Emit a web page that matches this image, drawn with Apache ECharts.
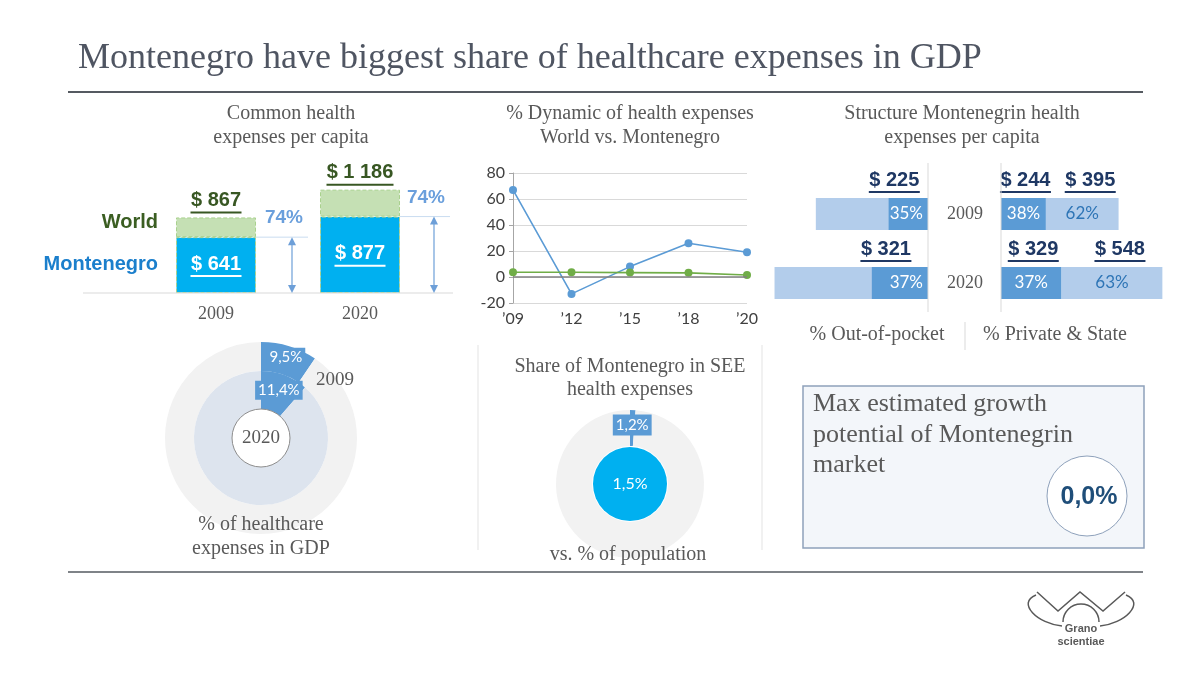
<!DOCTYPE html>
<html><head><meta charset="utf-8">
<script src="https://cdn.jsdelivr.net/npm/echarts@6/dist/echarts.min.js"></script>
<style>html,body{margin:0;padding:0;background:#fff}#c{width:1200px;height:675px}</style>
</head><body><div id="c"></div>
<script>
// ---------------- data ----------------
const barYears = ['2009', '2020'];
const worldPerCapita = [867, 1186];
const montenegroPerCapita = [641, 877];

const dynCategories = ['’09', '’12', '’15', '’18', '’20'];
const dynMontenegro = [67, -13, 8, 26, 19];
const dynWorld = [3.6, 3.6, 3.4, 3.2, 1.5];
const dynTicks = [-20, 0, 20, 40, 60, 80];

const structYears = ['2009', '2020'];
const outOfPocket = [225, 321];
const outOfPocketPct = [35, 37];
const privateExp = [244, 329];
const privatePct = [38, 37];
const stateExp = [395, 548];
const statePct = [62, 63];

const gdpShare2009 = 9.5;
const gdpShare2020 = 11.4;

const seeShareExpenses = 1.2;
const seeSharePopulation = 1.5;

const growthPotential = 0.0;

// ---------------- helpers ----------------
const SERIF = "'Liberation Serif','DejaVu Serif',serif";
const SANS = "'Liberation Sans',Arial,sans-serif";
const CAL = "Lato,'Open Sans',sans-serif";
const GRAY = '#595959';
const BLUE = '#5b9bd5';

const ctx2d = document.createElement('canvas').getContext('2d');
function tw(text, font) { ctx2d.font = font; return Math.ceil(ctx2d.measureText(text).width); }
function money(v) { return '$ ' + String(v).replace(/\B(?=(\d{3})+(?!\d))/g, ' '); }
function pct1(v) { return v.toFixed(1).replace('.', ',') + '%'; }
function ulLabel(text, color, size, extra) {
  const font = 'bold ' + size + 'px ' + SANS;
  return Object.assign({
    show: true,
    formatter: '{t|' + text + '}\n{u|}',
    rich: {
      t: { fontFamily: SANS, fontWeight: 'bold', fontSize: size, color: color, lineHeight: size + 2, align: 'center' },
      u: { width: tw(text, font), height: 2, backgroundColor: color, align: 'center' }
    }
  }, extra || {});
}

const chart = echarts.init(document.getElementById('c'), null, { renderer: 'canvas' });

const option = {
  animation: false,
  backgroundColor: '#fff',
  grid: [
    { left: 144, width: 288, top: 171, bottom: 382 },
    { left: 513, width: 234, top: 173, height: 130 },
    { left: 753, width: 175, top: 179.5, height: 138 },
    { left: 1001, width: 184, top: 179.5, height: 138 }
  ],
  xAxis: [
    { gridIndex: 0, type: 'category', data: barYears, axisLine: { show: false }, axisTick: { show: false },
      axisLabel: { fontFamily: SERIF, fontSize: 18, color: GRAY, margin: 12 } },
    { gridIndex: 1, type: 'category', data: dynCategories, boundaryGap: false, axisLine: { show: false }, axisTick: { show: false },
      axisLabel: { fontFamily: CAL, fontSize: 16, color: '#404040', margin: 8 } },
    { gridIndex: 2, type: 'value', inverse: true, min: 0, max: 1000, show: false },
    { gridIndex: 3, type: 'value', min: 0, max: 1000, show: false }
  ],
  yAxis: [
    { gridIndex: 0, type: 'value', min: 0, max: 1400, show: false },
    { gridIndex: 1, type: 'value', min: dynTicks[0], max: dynTicks[dynTicks.length - 1], interval: dynTicks[1] - dynTicks[0],
      axisLine: { show: true, lineStyle: { color: '#a6a6a6' } },
      axisTick: { show: true, length: 4, lineStyle: { color: '#a6a6a6' } },
      splitLine: { show: true, lineStyle: { color: '#d9d9d9' } },
      axisLabel: { fontFamily: CAL, fontSize: 16, color: '#404040', margin: 8 } },
    { gridIndex: 2, type: 'category', data: structYears, inverse: true, show: false },
    { gridIndex: 3, type: 'category', data: structYears, inverse: true,
      axisLine: { show: false }, axisTick: { show: false }, splitLine: { show: false },
      axisLabel: { fontFamily: SERIF, fontSize: 18, color: GRAY, margin: 18 } }
  ],
  series: [
    // panel 1: per-capita stacked bars
    { type: 'bar', xAxisIndex: 0, yAxisIndex: 0, stack: 'pc', barWidth: 80,
      itemStyle: { color: '#00b0f0', borderColor: '#a9d18e', borderWidth: 1, borderType: 'dashed' },
      data: montenegroPerCapita.map(v => ({ value: v, label: ulLabel(money(v), '#ffffff', 20, { position: 'inside' }) })) },
    { type: 'bar', xAxisIndex: 0, yAxisIndex: 0, stack: 'pc', barWidth: 80,
      itemStyle: { color: '#c5e0b4', borderColor: '#a9d18e', borderWidth: 1, borderType: 'dashed' },
      data: worldPerCapita.map((v, i) => ({ value: v - montenegroPerCapita[i], label: ulLabel(money(v), '#385723', 20, { position: 'top', distance: 4 }) })) },
    // panel 2: dynamics
    { type: 'line', xAxisIndex: 1, yAxisIndex: 1, data: dynMontenegro, symbol: 'circle', symbolSize: 8,
      itemStyle: { color: BLUE }, lineStyle: { width: 1.6, color: BLUE }, z: 3,
      markLine: { silent: true, symbol: 'none', label: { show: false }, lineStyle: { color: '#7f7f7f', width: 1.5, type: 'solid' }, data: [{ yAxis: 0 }] } },
    { type: 'line', xAxisIndex: 1, yAxisIndex: 1, data: dynWorld, symbol: 'circle', symbolSize: 8,
      itemStyle: { color: '#70ad47' }, lineStyle: { width: 1.6, color: '#70ad47' }, z: 4 },
    // panel 3 left: out-of-pocket
    { type: 'bar', xAxisIndex: 2, yAxisIndex: 2, barWidth: 32, barGap: '-100%', data: montenegroPerCapita, itemStyle: { color: '#b3cdeb' } },
    { type: 'bar', xAxisIndex: 2, yAxisIndex: 2, barWidth: 32, barGap: '-100%', itemStyle: { color: BLUE },
      data: outOfPocket.map(v => ({ value: v, label: ulLabel(money(v), '#1f3864', 20, { position: 'top', distance: 5, offset: [-14, 0] }) })) },
    { type: 'bar', xAxisIndex: 2, yAxisIndex: 2, barWidth: 32, barGap: '-100%', itemStyle: { color: 'rgba(0,0,0,0)' },
      data: outOfPocket.map((v, i) => ({ value: v, label: { show: true, position: 'insideRight', distance: 5, formatter: outOfPocketPct[i] + '%', color: '#fff', fontFamily: CAL, fontSize: 17 } })) },
    // panel 3 right: private & state
    { type: 'bar', xAxisIndex: 3, yAxisIndex: 3, stack: 'ps', barWidth: 32, itemStyle: { color: BLUE },
      data: privateExp.map(v => ({ value: v, label: ulLabel(money(v), '#1f3864', 20, { position: 'top', distance: 5, offset: [2, 0] }) })) },
    { type: 'bar', xAxisIndex: 3, yAxisIndex: 3, stack: 'ps', barWidth: 32, itemStyle: { color: '#b3cdeb' },
      data: stateExp.map(v => ({ value: v, label: ulLabel(money(v), '#1f3864', 20, { position: 'top', distance: 5, offset: [8, 0] }) })) },
    { type: 'bar', xAxisIndex: 3, yAxisIndex: 3, stack: 'ps2', barWidth: 32, barGap: '-100%', itemStyle: { color: 'rgba(0,0,0,0)' },
      data: privateExp.map((v, i) => ({ value: v, label: { show: true, position: 'inside', formatter: privatePct[i] + '%', color: '#fff', fontFamily: CAL, fontSize: 17 } })) },
    { type: 'bar', xAxisIndex: 3, yAxisIndex: 3, stack: 'ps2', barWidth: 32, barGap: '-100%', itemStyle: { color: 'rgba(0,0,0,0)' },
      data: stateExp.map((v, i) => ({ value: v, label: { show: true, position: 'inside', formatter: statePct[i] + '%', color: '#2e75b6', fontFamily: CAL, fontSize: 17 } })) },
    // panel 4: GDP share donuts
    { type: 'pie', center: [261, 438], radius: [67, 96], startAngle: 90, clockwise: true, silent: true,
      label: { show: false }, labelLine: { show: false }, itemStyle: { borderWidth: 0 },
      data: [
        { value: gdpShare2009, itemStyle: { color: BLUE },
          label: { show: true, position: 'inside', formatter: pct1(gdpShare2009), color: '#fff', fontFamily: CAL, fontSize: 15, backgroundColor: BLUE, padding: [2, 3] } },
        { value: 100 - gdpShare2009, itemStyle: { color: '#f2f2f2' } }
      ] },
    { type: 'pie', center: [261, 438], radius: [29, 67], startAngle: 90, clockwise: true, silent: true,
      label: { show: false }, labelLine: { show: false }, itemStyle: { borderWidth: 0 },
      data: [
        { value: gdpShare2020, itemStyle: { color: BLUE },
          label: { show: true, position: 'inside', formatter: pct1(gdpShare2020), color: '#fff', fontFamily: CAL, fontSize: 15, backgroundColor: BLUE, padding: [2, 3] } },
        { value: 100 - gdpShare2020, itemStyle: { color: '#dde4ee' } }
      ] },
    { type: 'pie', center: [261, 438], radius: [0, 29], silent: true, labelLine: { show: false },
      itemStyle: { color: '#fff', borderColor: '#8c8c8c', borderWidth: 1 },
      label: { show: true, position: 'center', formatter: '2020', fontFamily: SERIF, fontSize: 19, color: GRAY },
      data: [{ value: 1 }] },
    // panel 5: SEE share
    { type: 'pie', center: [630, 484], radius: [38, 74], startAngle: 90, clockwise: true, silent: true,
      label: { show: false }, labelLine: { show: false }, itemStyle: { borderWidth: 0 },
      data: [
        { value: seeShareExpenses, itemStyle: { color: BLUE },
          label: { show: true, position: 'inside', formatter: pct1(seeShareExpenses), color: '#fff', fontFamily: CAL, fontSize: 15, backgroundColor: BLUE, padding: [3, 3] } },
        { value: 100 - seeShareExpenses, itemStyle: { color: '#f2f2f2' } }
      ] },
    { type: 'pie', center: [630, 484], radius: [0, 37], silent: true, labelLine: { show: false },
      itemStyle: { color: '#00b0f0', borderWidth: 0 },
      label: { show: true, position: 'center', formatter: pct1(seeSharePopulation), fontFamily: CAL, fontSize: 16, color: '#fff' },
      data: [{ value: seeSharePopulation }] }
  ]
};
chart.setOption(option);

// ---------------- annotations ----------------
function txt(x, y, text, font, fill, align, vAlign) {
  return { type: 'text', x: x, y: y, z: 100, silent: true,
    style: { text: text, font: font, fill: fill, align: align || 'center', verticalAlign: vAlign || 'middle' } };
}
function line(x1, y1, x2, y2, stroke, w) {
  return { type: 'line', z: 50, silent: true, shape: { x1: x1, y1: y1, x2: x2, y2: y2 }, style: { stroke: stroke, lineWidth: w || 1 } };
}
const sub = '20px ' + SERIF;
const g = [];
g.push(txt(78, 59, 'Montenegro have biggest share of healthcare expenses in GDP', '36px ' + SERIF, '#4f5562', 'left'));
g.push(line(68, 92, 1143, 92, '#555a61', 2));
g.push(line(68, 572, 1143, 572, '#555a61', 1.5));

g.push(txt(291, 114, 'Common health', sub, GRAY));
g.push(txt(291, 138, 'expenses per capita', sub, GRAY));
g.push(txt(630, 114, '% Dynamic of health expenses', sub, GRAY));
g.push(txt(630, 138, 'World vs. Montenegro', sub, GRAY));
g.push(txt(962, 114, 'Structure Montenegrin health', sub, GRAY));
g.push(txt(962, 138, 'expenses per capita', sub, GRAY));

g.push(txt(158, 222, 'World', 'bold 20px ' + SANS, '#3b5e22', 'right'));
g.push(txt(158, 264, 'Montenegro', 'bold 20px ' + SANS, '#1b7fcc', 'right'));

// baseline of per-capita bars
const base0 = chart.convertToPixel({ gridIndex: 0 }, [barYears[0], 0]);
g.push(line(83, base0[1], 453, base0[1], '#d9d9d9', 1));

// share arrows
barYears.forEach((yr, i) => {
  const p = chart.convertToPixel({ gridIndex: 0 }, [yr, montenegroPerCapita[i]]);
  const b = chart.convertToPixel({ gridIndex: 0 }, [yr, 0]);
  const ax = p[0] + 76 - i * 2;
  const share = Math.round(montenegroPerCapita[i] / worldPerCapita[i] * 100);
  g.push(line(p[0] + 40, p[1], ax + 16, p[1], '#c9dcf0', 1));
  g.push(line(ax, p[1] + 2, ax, b[1] - 2, '#6d9fd8', 1.2));
  g.push({ type: 'polygon', z: 51, silent: true, shape: { points: [[ax, p[1]], [ax - 4, p[1] + 8], [ax + 4, p[1] + 8]] }, style: { fill: '#6d9fd8' } });
  g.push({ type: 'polygon', z: 51, silent: true, shape: { points: [[ax, b[1]], [ax - 4, b[1] - 8], [ax + 4, b[1] - 8]] }, style: { fill: '#6d9fd8' } });
  g.push(txt(ax - 8, p[1] - 19, share + '%', 'bold 19px ' + SANS, '#6a9fdc'));
});

// structure panel separators and captions
g.push(line(928, 163, 928, 312, '#d9d9d9', 1));
g.push(line(1001, 163, 1001, 312, '#d9d9d9', 1));
g.push(txt(877, 335, '% Out-of-pocket', sub, GRAY));
g.push(txt(1055, 335, '% Private & State', sub, GRAY));
g.push(line(965, 322, 965, 350, '#d9d9d9', 1));

// bottom panel separators
g.push(line(478, 345, 478, 550, '#e3e3e3', 1));
g.push(line(762, 345, 762, 550, '#e3e3e3', 1));

// GDP donut captions
g.push(txt(335, 380, '2009', '19px ' + SERIF, GRAY));
g.push(txt(261, 525, '% of healthcare', sub, GRAY));
g.push(txt(261, 549, 'expenses in GDP', sub, GRAY));

// SEE captions
g.push(txt(630, 367, 'Share of Montenegro in SEE', sub, GRAY));
g.push(txt(630, 390, 'health expenses', sub, GRAY));
g.push(txt(628, 555, 'vs. % of population', sub, GRAY));

// growth box
g.push({ type: 'rect', z: 40, silent: true, shape: { x: 803, y: 386, width: 341, height: 162 }, style: { fill: '#f3f6fa', stroke: '#8ea1bb', lineWidth: 1.5 } });
g.push(txt(813, 404, 'Max estimated growth', '26px ' + SERIF, GRAY, 'left'));
g.push(txt(813, 435, 'potential of Montenegrin', '26px ' + SERIF, GRAY, 'left'));
g.push(txt(813, 465, 'market', '26px ' + SERIF, GRAY, 'left'));
g.push({ type: 'circle', z: 60, silent: true, shape: { cx: 1087, cy: 496, r: 40 }, style: { fill: '#fff', stroke: '#8ea1bb', lineWidth: 1 } });
g.push(txt(1089, 497, pct1(growthPotential), 'bold 25px ' + SANS, '#1f4e79'));

// logo
const LG = '#595959';
g.push({ type: 'bezierCurve', z: 60, silent: true, shape: { x1: 1036, y1: 595, x2: 1062, y2: 626, cpx1: 1016, cpy1: 603, cpx2: 1038, cpy2: 624 }, style: { stroke: LG, lineWidth: 1.5, fill: null } });
g.push({ type: 'bezierCurve', z: 60, silent: true, shape: { x1: 1126, y1: 595, x2: 1100, y2: 626, cpx1: 1146, cpy1: 603, cpx2: 1124, cpy2: 624 }, style: { stroke: LG, lineWidth: 1.5, fill: null } });
g.push({ type: 'polyline', z: 60, silent: true, shape: { points: [[1037, 592], [1058, 611], [1080, 592], [1103, 611], [1125, 592]] }, style: { stroke: LG, lineWidth: 1.5, fill: null } });
g.push({ type: 'arc', z: 60, silent: true, shape: { cx: 1081, cy: 622, r: 18, startAngle: Math.PI, endAngle: 2 * Math.PI }, style: { stroke: LG, lineWidth: 1.5, fill: null } });
g.push(txt(1081, 629, 'Grano', 'bold 11px ' + SANS, LG));
g.push(txt(1081, 642, 'scientiae', 'bold 11px ' + SANS, LG));

chart.setOption({ graphic: g });
</script>
</body></html>
